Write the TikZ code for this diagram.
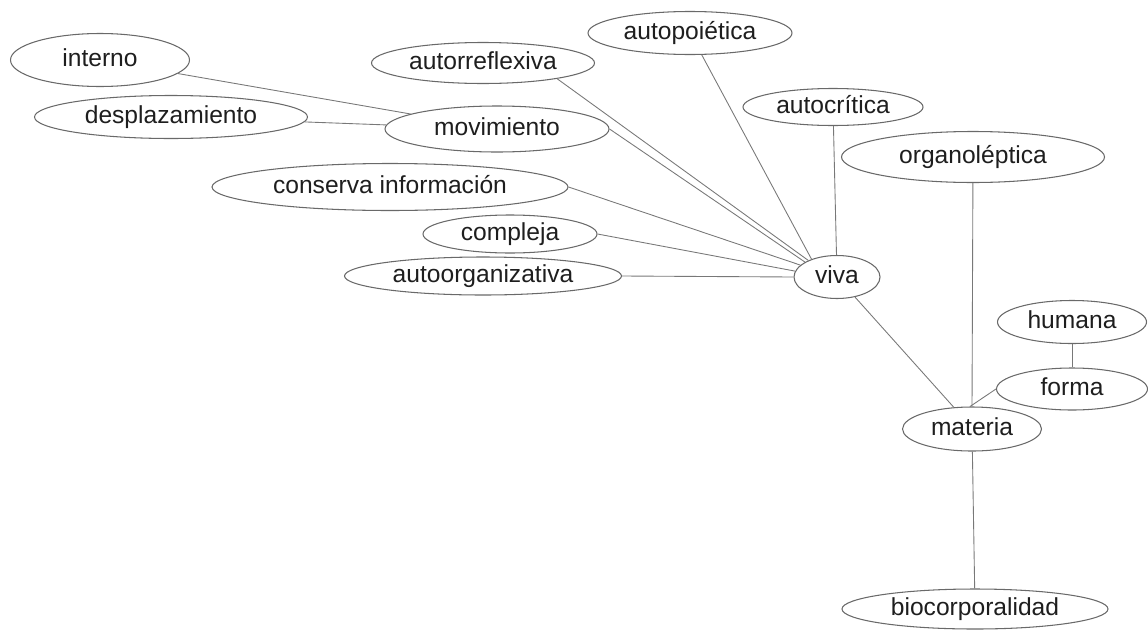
\documentclass[tikz,border=0pt]{standalone}
\usepackage{fontspec}
\setmainfont{Liberation Sans}
\usepackage{tikz}
\usetikzlibrary{shapes,positioning}
\definecolor{mmline}{RGB}{120,120,120}
\definecolor{mmborder}{RGB}{105,105,105}
\definecolor{mmtext}{RGB}{30,30,30}
\tikzstyle{concept} = [ellipse, draw=mmborder, line width=0.6pt, inner sep=0pt, text=mmtext, font=\fontsize{14}{16}\selectfont, text height=0.9em, text depth=0.15em]
\tikzstyle{link} = [draw=mmline, line width=0.5pt]

\begin{document}
\begin{tikzpicture}
\useasboundingbox (0,0) rectangle (22.96,12.6);

\node[concept, minimum width=3.58cm, minimum height=1.06cm] (interno) at (2.00,11.40) {interno};
\node[concept, minimum width=5.46cm, minimum height=0.86cm] (desplazamiento) at (3.42,10.26) {desplazamiento};
\node[concept, minimum width=4.48cm, minimum height=0.92cm] (movimiento) at (9.94,10.02) {movimiento};
\node[concept, minimum width=4.46cm, minimum height=0.82cm] (autorreflexiva) at (9.66,11.34) {autorreflexiva};
\node[concept, minimum width=4.08cm, minimum height=0.86cm] (autopoietica) at (13.80,11.94) {autopoiética};
\node[concept, minimum width=3.60cm, minimum height=0.74cm] (autocritica) at (16.66,10.46) {autocrítica};
\node[concept, minimum width=5.26cm, minimum height=1.02cm] (organoleptica) at (19.46,9.46) {organoléptica};
\node[concept, minimum width=7.12cm, minimum height=0.94cm] (conserva) at (7.80,8.86) {conserva información};
\node[concept, minimum width=3.48cm, minimum height=0.76cm] (compleja) at (10.20,7.92) {compleja};
\node[concept, minimum width=5.54cm, minimum height=0.76cm] (autoorganizativa) at (9.66,7.08) {autoorganizativa};
\node[concept, minimum width=1.72cm, minimum height=0.86cm] (viva) at (16.74,7.06) {viva};
\node[concept, minimum width=2.98cm, minimum height=0.86cm] (humana) at (21.44,6.16) {humana};
\node[concept, minimum width=3.02cm, minimum height=0.84cm] (forma) at (21.44,4.82) {forma};
\node[concept, minimum width=2.78cm, minimum height=0.88cm] (materia) at (19.44,4.02) {materia};
\node[concept, minimum width=5.32cm, minimum height=0.80cm] (biocorporalidad) at (19.50,0.42) {biocorporalidad};

% movimiento
\draw[link] (interno) -- (movimiento);
\draw[link] (desplazamiento) -- (movimiento);

% viva
\draw[link] (autopoietica) -- (viva.145);
\draw[link] (autorreflexiva.-12) -- (viva.150);
\draw[link] (movimiento.east) -- (viva.155);
\draw[link] (conserva.east) -- (viva.162);
\draw[link] (compleja.east) -- (viva.172);
\draw[link] (autoorganizativa.east) -- (viva.west);
\draw[link] (autocritica) -- (viva);

% materia
\draw[link] (viva) -- (materia.130);
\draw[link] (organoleptica) -- (materia.north);
\draw[link] (humana) -- (forma);
\draw[link] (forma.west) -- (materia.95);
\draw[link] (materia) -- (biocorporalidad);
\end{tikzpicture}
\end{document}
